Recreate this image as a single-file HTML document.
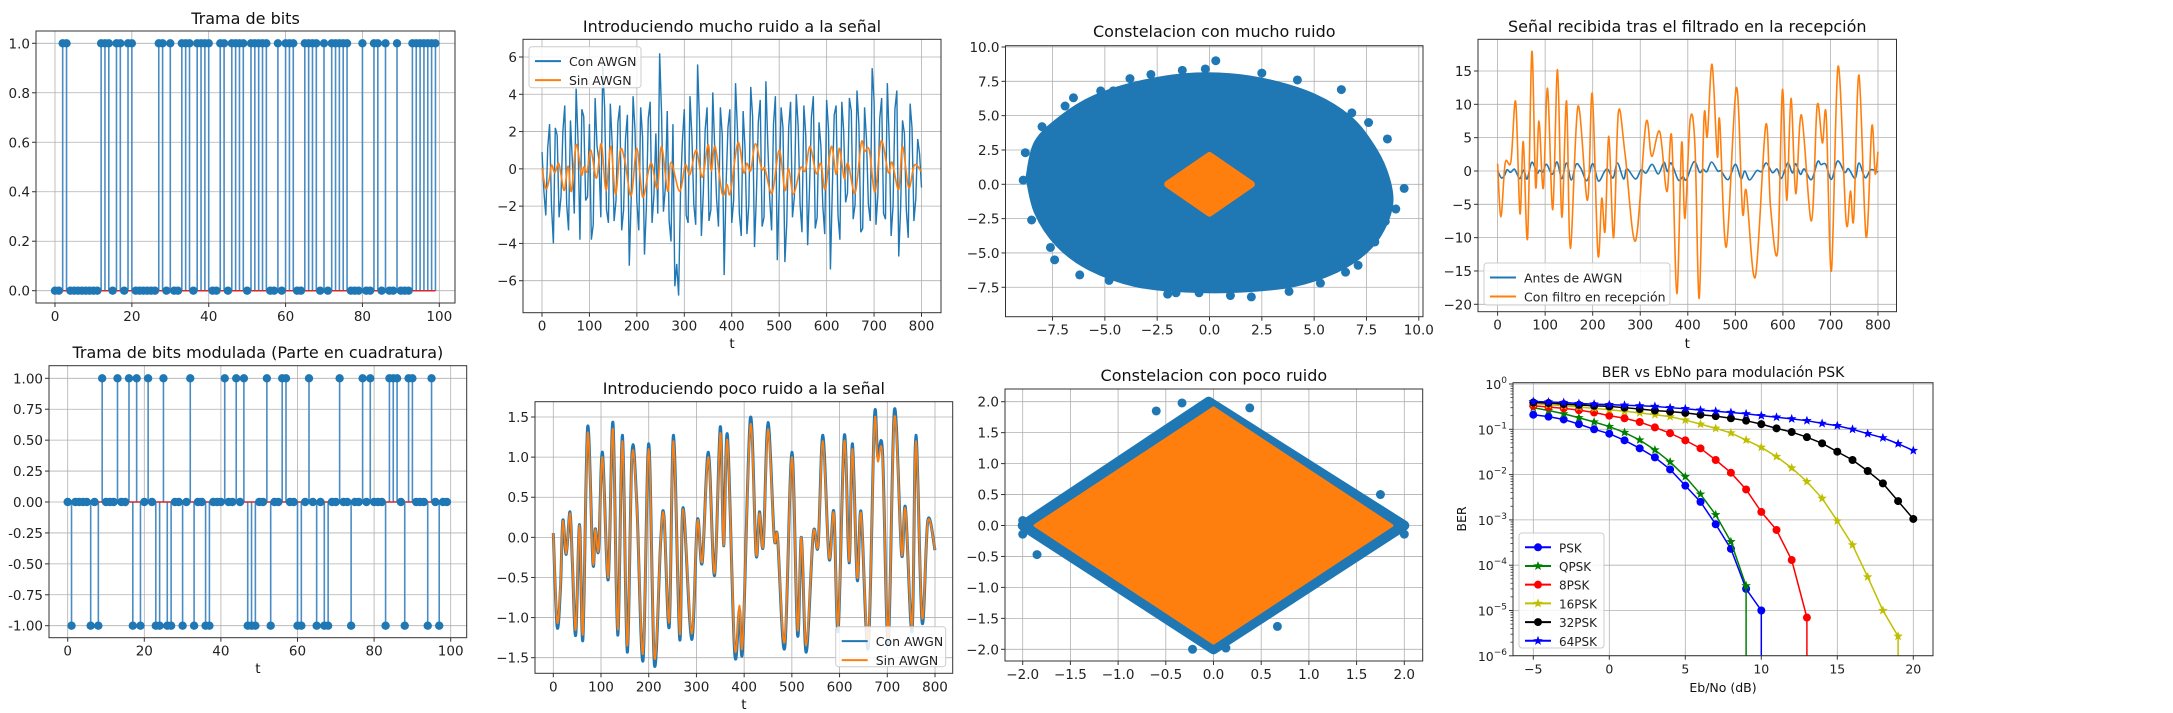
<!DOCTYPE html>
<html><head><meta charset="utf-8"><title>Figures</title>
<style>
html,body{margin:0;padding:0;background:#fff;}
svg{display:block;font-family:"DejaVu Sans","Liberation Sans",sans-serif;}
</style></head>
<body>
<svg id="fig" xmlns="http://www.w3.org/2000/svg" width="2173" height="713" viewBox="0 0 2173 713"></svg>
<script>
// ---------- DATA ----------
const bitOnesTop = [2,3,12,13,14,16,17,19,20,27,28,30,33,34,35,37,38,39,40,43,44,46,47,48,49,51,52,53,54,55,58,60,61,62,65,66,67,68,70,72,73,74,75,76,80,83,84,86,89,93,94,95,96,97,98,99];
const quadPlus = [9,13,16,18,21,25,32,41,44,46,52,56,57,63,71,77,79,84,85,86,89,90,95];
const quadMinus = [1,6,8,17,19,23,24,26,27,30,33,36,37,47,48,49,53,60,61,65,67,68,74,83,88,94,97];
const cleanT = [0,8,15,20,27,35,40,47,55,62,72,83,88,95,103,115,125,135,145,155,165,175,188,200,212,225,232,243,252,265,272,290,302,312,325,338,350,357,365,380,390,397,413,425,432,440,450,463,470,485,500,512,520,530,545,555,565,578,588,597,610,620,627,637,645,660,673,680,690,702,715,730,738,752,760,773,785,800];
const cleanV = [0.05,-1.05,-0.6,0.2,-0.2,0.3,-0.3,-1.15,0.15,-1.2,1.3,-0.3,0.1,-0.15,1.0,-0.5,1.35,-1.15,1.2,-1.35,1.0,0.4,-1.45,1.1,-1.5,-0.05,0.25,-1.05,1.2,-1.2,0.35,-1.2,0.2,-0.3,1.0,-0.45,1.3,-0.1,1.2,-1.35,-0.85,-1.3,1.4,-0.2,0.3,-0.1,1.35,0.0,0.0,-1.3,1.0,-1.15,0.0,-1.35,0.05,-0.1,1.2,-0.25,0.3,-1.1,1.2,-0.3,1.1,-0.5,0.3,-1.3,1.4,0.95,1.0,-1.25,1.5,-0.2,0.35,-1.1,1.2,-1.0,0.2,-0.15];
const noisyHigh = [0.9,-2.5,2.4,-4,1.8,-1.5,3.4,-3.3,0.4,4.3,-3.8,2.8,-1.5,-3.8,3.8,0.5,5.5,-2.2,3.5,-2.8,2.5,-3.3,1.6,-5.2,3.9,-1.8,3.3,-4.6,2.7,-2.9,1.9,6.2,-2.3,3.1,-3.9,-6.3,-6.8,1.5,-2.5,3.9,-1.9,5.6,-3.6,2.1,-2.8,4.1,-1.6,3.3,-5.7,2.2,-2.9,4.6,-2.4,3.1,-3.5,4.4,-4.2,2.5,-3.1,4.7,-1.6,2.4,-4.9,3.3,-5.0,2.2,-2.6,4.0,-1.9,3.4,-4.1,2.8,-3.2,2.5,-2.0,3.7,-5.4,2.9,-2.5,3.6,-1.8,3.8,-2.7,4.2,-3.4,3.3,-1.9,5.4,-3.0,2.7,-2.4,4.6,-3.6,3.2,-4.7,2.6,-2.2,3.5,-2.8,1.6,-1.0];
const noisyHighMid = [-1.2,1.1,-2.0,2.2,-2.6,2.0,-1.9,2.6,-2.4,1.5,3.2,-1.7,2.4,-3.0,1.2,-2.6,3.3,-2.9,1.3,-1.7,3.4,-2.2,2.9,-1.6,2.1,-3.3,1.7,-2.1,3.6,-1.4,-2.4,3.0,-1.0,-2.8,2.4,-5.1,-1.2,3.2,-2.9,1.7,-3.0,2.6,-1.3,3.3,-2.2,1.2,-3.1,1.8,-0.9,3.2,-1.7,2.1,-3.6,1.1,-1.9,2.8,-1.4,3.7,-2.6,1.3,-3.3,3.9,-1.2,2.2,-2.9,3.6,-1.5,2.3,-3.4,1.8,-1.0,3.9,-2.6,1.2,-3.5,2.1,-1.1,3.4,-3.8,2.0,-1.3,3.1,-1.9,2.4,-3.2,1.6,-2.8,3.7,-1.4,3.8,-2.7,1.5,-2.0,4.2,-2.1,1.9,-3.7,2.2,-1.6,0.8];
const filtT = [0,7,16,28,38,47,54,63,72,80,87,96,105,116,126,135,145,153,169,189,199,211,219,226,234,244,254,268,290,312,324,341,356,366,377,387,394,405,415,424,434,441,451,462,467,481,502,515,523,542,564,574,589,599,608,617,627,639,660,672,683,691,702,716,733,742,749,760,775,787,794,800];
const filtV = [1.1,-6.9,1.2,1.4,10.4,-6.4,4.4,-10.1,17.9,-2.4,7.5,-2.6,12.4,-5.8,15.2,-6.9,10.5,-11.6,9.7,-4.4,11.6,-12.5,-4.1,-9.0,5.2,-10,8.8,2.6,-10.5,7.2,2.2,5.9,-3.1,5.2,-18.4,4.2,-7.1,7.7,3.9,-19.1,7.9,5.2,16,2.2,7.6,-11.4,12.5,-6.1,-3,-15.9,6.9,-5.4,-12,12.2,-4.4,10.9,-3.4,8.4,-7.5,9.8,4.2,8.4,-15,15.7,-7.6,-3,-7.1,14.4,-9.9,6.7,-0.4,2.9];
const cloudHighX = [-8.6,-8.2,-7.0,-5.5,-3.5,-1.2,1.0,3.0,5.0,6.6,7.6,8.3,8.6,8.2,7.4,6.0,4.0,1.5,-1.0,-3.5,-5.7,-7.2,-8.2];
const cloudHighY = [0.5,3.0,4.8,6.2,7.2,7.8,7.8,7.3,6.3,4.8,3.0,1.0,-1.2,-3.2,-4.8,-6.2,-7.2,-7.6,-7.6,-7.2,-6.0,-4.3,-2.0];
const outHighX = [0.3,-1.3,2.5,-6.5,6.8,9.3,-7.4,7.1,-4.6,-2.0,5.3,-0.5,-3.8,-2.8,4.2,6.3,7.6,8.5,8.9,8.4,7.9,6.5,3.8,1.0,-1.6,-4.8,-6.2,-7.6,-8.5,-8.9,-8.8,-8.0,-6.9,-5.2,2.0,-0.2];
const outHighY = [9.0,8.3,8.1,6.3,5.2,-0.3,-5.5,-5.9,6.8,-8.0,-7.2,-7.9,7.7,8.0,7.6,6.9,4.5,3.3,-1.8,-2.7,-4.2,-6.4,-7.8,-8.1,-7.9,-7.0,-6.6,-4.6,-2.6,0.3,2.3,4.2,5.7,6.8,-8.2,8.4];
const diamondHighX = [-2.0,0,2.0,0];
const diamondHighY = [0,2.1,0,-2.1];
const cloudLowX = [-2.0,-0.05,2.0,0.0];
const cloudLowY = [0.0,2.0,0.0,-2.0];
const outLowX = [-0.6,-0.33,0.38,-0.22,0.13,0.67,-2.0,-2.0,2.0,-1.85,1.75];
const outLowY = [1.85,1.98,1.9,-2.0,-1.98,-1.63,0.08,-0.14,-0.14,-0.47,0.5];
const diamondLowX = [-1.87,0,1.87,0];
const diamondLowY = [0,1.9,0,-1.9];
const ebno = [-5,-4,-3,-2,-1,0,1,2,3,4,5,6,7,8,9,10,11,12,13,14,15,16,17,18,19,20];
const berPSK = [0.21,0.19,0.165,0.13,0.1,0.08,0.057,0.038,0.024,0.013,0.0057,0.0025,0.0008,0.00023,0.00003,0.00001,0];
const berQPSK = [0.3,0.26,0.22,0.18,0.145,0.115,0.085,0.058,0.035,0.019,0.009,0.0037,0.0013,0.00033,0.000035,0];
const ber8PSK = [0.33,0.31,0.29,0.265,0.235,0.2,0.175,0.145,0.11,0.082,0.057,0.038,0.021,0.011,0.0047,0.0015,0.0006,0.00013,0.000007,0];
const ber16PSK = [0.37,0.35,0.33,0.31,0.29,0.27,0.25,0.23,0.21,0.19,0.16,0.13,0.105,0.083,0.058,0.04,0.025,0.014,0.007,0.003,0.00095,0.00028,0.000055,0.00001,0.0000027,0];
const ber32PSK = [0.39,0.38,0.36,0.345,0.33,0.32,0.3,0.28,0.26,0.245,0.23,0.21,0.195,0.175,0.155,0.13,0.105,0.087,0.067,0.049,0.032,0.021,0.012,0.0064,0.0026,0.00105];
const ber64PSK = [0.41,0.4,0.39,0.37,0.36,0.35,0.34,0.33,0.32,0.3,0.285,0.265,0.25,0.235,0.22,0.2,0.185,0.17,0.155,0.135,0.12,0.1,0.08,0.065,0.048,0.034];

// ---------- HELPERS ----------
const NS = "http://www.w3.org/2000/svg";
const fig = document.getElementById('fig');
const BLUE = '#1f77b4', ORANGE = '#ff7f0e';
function mk(tag, attrs, parent){ const e=document.createElementNS(NS,tag); for(const k in attrs) e.setAttribute(k,attrs[k]); (parent||fig).appendChild(e); return e; }
function lin(v1,p1,v2,p2){ const k=(p2-p1)/(v2-v1); return v=>p1+(v-v1)*k; }
function fmtMinus(s){ return s.replace('-','\u2212'); }
let clipId=0;
function makeAxes(name, box, sx, sy, xt, yt, opts){
  opts=opts||{};
  const g=mk('g',{});
  
  
  mk('rect',{x:box[0],y:box[1],width:box[2]-box[0],height:box[3]-box[1],fill:'#fff'},g);
  const fs = opts.fs||13.5;
  const grid=mk('g',{stroke:'#b0b0b0','stroke-width':0.8},g);
  
  
  xt.forEach(v=>{ const x=sx(v); mk('line',{x1:x,x2:x,y1:box[1],y2:box[3]},grid);
    mk('line',{x1:x,x2:x,y1:box[3],y2:box[3]+4,stroke:'#333'},g);
    const t=mk('text',{x:x,y:box[3]+18,'text-anchor':'middle','font-size':fs,fill:'#222'},g);
    t.textContent = opts.xfmt?opts.xfmt(v):fmtMinus(String(v));
    
     });
  yt.forEach(v=>{ const y=sy(v); mk('line',{x1:box[0],x2:box[2],y1:y,y2:y},grid);
    mk('line',{x1:box[0]-4,x2:box[0],y1:y,y2:y,stroke:'#333'},g);
    const t=mk('text',{x:box[0]-6,y:y+5,'text-anchor':'end','font-size':fs,fill:'#222'},g);
    if(opts.yfmt) opts.yfmt(t,v); else t.textContent = fmtMinus(String(v));
    
     });
  const id='c'+(clipId++);
  const cp=mk('clipPath',{id:id},g); mk('rect',{x:box[0],y:box[1],width:box[2]-box[0],height:box[3]-box[1]},cp);
  const plot=mk('g',{'clip-path':'url(#'+id+')'},g);
  
  
  const frame=mk('rect',{x:box[0],y:box[1],width:box[2]-box[0],height:box[3]-box[1],fill:'none',stroke:'#333','stroke-width':1},g);
  
  
  if(opts.title){ const t=mk('text',{x:(box[0]+box[2])/2,y:opts.titleY,'text-anchor':'middle','font-size':opts.tfs||16,fill:'#111'},g); t.textContent=opts.title;
    
     }
  if(opts.xlabel){ const t=mk('text',{x:(box[0]+box[2])/2,y:opts.xlabelY,'text-anchor':'middle','font-size':fs,fill:'#111'},g); t.textContent=opts.xlabel;
    
     }
  return {g,plot};
}
function range(a,b,s){ const r=[]; for(let v=a; v<=b+1e-9; v+=s) r.push(Math.round(v*1000)/1000); return r; }
function smoothPath(pts){
  let d='M'+pts[0][0]+','+pts[0][1];
  for(let i=0;i<pts.length-1;i++){
    const p0=pts[Math.max(0,i-1)],p1=pts[i],p2=pts[i+1],p3=pts[Math.min(pts.length-1,i+2)];
    const c1=[p1[0]+(p2[0]-p0[0])/6,p1[1]+(p2[1]-p0[1])/6], c2=[p2[0]-(p3[0]-p1[0])/6,p2[1]-(p3[1]-p1[1])/6];
    d+=' C'+c1[0].toFixed(2)+','+c1[1].toFixed(2)+' '+c2[0].toFixed(2)+','+c2[1].toFixed(2)+' '+p2[0].toFixed(2)+','+p2[1].toFixed(2);
  }
  return d;
}
function linePath(pts){ return 'M'+pts.map(p=>p[0].toFixed(2)+','+p[1].toFixed(2)).join(' L'); }
function legend(g, x, y, w, h, items, fs, rowH, name){
  const lg=mk('g',{},g);
  
  
  mk('rect',{x:x,y:y,width:w,height:h,rx:3,fill:'#fff','fill-opacity':0.85,stroke:'#ccc'},lg);
  items.forEach((it,i)=>{
    const cy=y+rowH*0.55+i*rowH+4;
    const e=mk('g',{},lg);
    
    
    mk('line',{x1:x+6,x2:x+32,y1:cy,y2:cy,stroke:it.c,'stroke-width':2},e);
    if(it.m==='o') mk('circle',{cx:x+19,cy:cy,r:4,fill:it.c},e);
    if(it.m==='*') star(e,x+19,cy,5,it.c);
    const t=mk('text',{x:x+40,y:cy+5,'font-size':fs,fill:'#222'},e); t.textContent=it.t;
  });
}
function star(parent,cx,cy,r,c){
  let d='';
  for(let i=0;i<10;i++){ const a=-Math.PI/2+i*Math.PI/5, rr=i%2?r*0.42:r; d+=(i?'L':'M')+(cx+rr*Math.cos(a)).toFixed(2)+','+(cy+rr*Math.sin(a)).toFixed(2); }
  return mk('path',{d:d+'Z',fill:c},parent);
}

// ---------- PANEL 1: Trama de bits ----------
(function(){
  const box=[36,31,455,303], sx=lin(0,55,100,439.3), sy=lin(0,290.7,1,43.3);
  const A=makeAxes('bits-stem-chart',box,sx,sy,range(0,100,20),[0,0.2,0.4,0.6,0.8,1.0].map(v=>v),{title:'Trama de bits',titleY:24,
    yfmt:(t,v)=>t.textContent=v.toFixed(1)});
  const vals=[]; for(let i=0;i<100;i++) vals.push(bitOnesTop.includes(i)?1:0);
  vals.forEach((v,i)=>{ if(v!==0){ const s=mk('line',{x1:sx(i),x2:sx(i),y1:sy(0),y2:sy(v),stroke:'#4a8cc4','stroke-width':1.6},A.plot);
      }});
  const bl=mk('line',{x1:sx(0),x2:sx(99),y1:sy(0),y2:sy(0),stroke:'#d62728','stroke-width':1.5},A.plot);
   
  vals.forEach((v,i)=>{ const c=mk('circle',{cx:sx(i),cy:sy(v),r:4.2,fill:BLUE},A.plot);
      });
})();

// ---------- PANEL 2: mucho ruido ----------
(function(){
  const box=[523,39.3,941,312.7], sx=lin(0,542,800,921.5), sy=lin(6,57,-6,280.7);
  const A=makeAxes('high-noise-signal-chart',box,sx,sy,range(0,800,100),[-6,-4,-2,0,2,4,6],{title:'Introduciendo mucho ruido a la señal',titleY:32,xlabel:'t',xlabelY:348});
  const n=noisyHigh.length;
  const pts=[];
  noisyHigh.forEach((v,i)=>{ pts.push([sx(i*800/(n-1)),sy(v)]); if(i<noisyHighMid.length && i<n-1) pts.push([sx((i+0.5)*800/(n-1)),sy(noisyHighMid[i])]); });
  const p1=mk('path',{d:linePath(pts),fill:'none',stroke:BLUE,'stroke-width':1.4},A.plot);
   
  const p2=mk('path',{d:smoothPath(cleanT.map((t,i)=>[sx(t),sy(cleanV[i])])),fill:'none',stroke:ORANGE,'stroke-width':1.6},A.plot);
   
  legend(A.g,529,46.7,112,41,[{t:'Con AWGN',c:BLUE},{t:'Sin AWGN',c:ORANGE}],12.5,19,'legend');
})();

// ---------- PANEL 3: constelacion mucho ruido ----------
(function(){
  const box=[1005.5,45.7,1423,316.7], sx=lin(0,1209.5,10,1418.8), sy=lin(0,184.3,10,47);
  const A=makeAxes('high-noise-constellation-chart',box,sx,sy,[-7.5,-5,-2.5,0,2.5,5,7.5,10],[-7.5,-5,-2.5,0,2.5,5,7.5,10],{title:'Constelacion con mucho ruido',titleY:37,
    xfmt:v=>fmtMinus(v.toFixed(1)), yfmt:(t,v)=>t.textContent=fmtMinus(v.toFixed(1))});
  const cl=mk('path',{d:smoothPath(cloudHighX.concat([cloudHighX[0]]).map((x,i)=>[sx(x),sy(cloudHighY.concat([cloudHighY[0]])[i])]))+'Z',fill:BLUE,stroke:BLUE,'stroke-width':8,'stroke-linejoin':'round'},A.plot);
   
  outHighX.forEach((x,i)=>{ const c=mk('circle',{cx:sx(x),cy:sy(outHighY[i]),r:4.5,fill:BLUE},A.plot);
      });
  const dm=mk('path',{d:linePath(diamondHighX.map((x,i)=>[sx(x),sy(diamondHighY[i])]))+'Z',fill:ORANGE,stroke:ORANGE,'stroke-width':7,'stroke-linejoin':'round'},A.plot);
   
})();

// ---------- PANEL 4: filtrado ----------
(function(){
  const box=[1478,39.3,1896.5,311.7], sx=lin(0,1497.6,800,1878), sy=lin(15,71,-20,304.3);
  const A=makeAxes('filtered-signal-chart',box,sx,sy,range(0,800,100),[-20,-15,-10,-5,0,5,10,15],{title:'Señal recibida tras el filtrado en la recepción',titleY:32,xlabel:'t',xlabelY:348});
  const p1=mk('path',{d:smoothPath(cleanT.map((t,i)=>[sx(t),sy(cleanV[i])])),fill:'none',stroke:BLUE,'stroke-width':1.6},A.plot);
   
  const p2=mk('path',{d:smoothPath(filtT.map((t,i)=>[sx(t),sy(filtV[i])])),fill:'none',stroke:ORANGE,'stroke-width':1.6},A.plot);
   
  legend(A.g,1484,263,186,42,[{t:'Antes de AWGN',c:BLUE},{t:'Con filtro en recepción',c:ORANGE}],12.5,19,'legend');
})();

// ---------- PANEL 5: cuadratura ----------
(function(){
  const box=[49,365.7,466.7,637.7], sx=lin(0,67.7,100,450.7), sy=lin(1,378.3,-1,625.7);
  const A=makeAxes('quadrature-bits-stem-chart',box,sx,sy,range(0,100,20),[-1,-0.75,-0.5,-0.25,0,0.25,0.5,0.75,1],{title:'Trama de bits modulada (Parte en cuadratura)',titleY:358,xlabel:'t',xlabelY:673,
    yfmt:(t,v)=>t.textContent=v.toFixed(2)});
  const vals=[]; for(let i=0;i<100;i++) vals.push(quadPlus.includes(i)?1:(quadMinus.includes(i)?-1:0));
  vals.forEach((v,i)=>{ if(v!==0){ const s=mk('line',{x1:sx(i),x2:sx(i),y1:sy(0),y2:sy(v),stroke:'#4a8cc4','stroke-width':1.6},A.plot);
      }});
  const bl=mk('line',{x1:sx(0),x2:sx(99),y1:sy(0),y2:sy(0),stroke:'#d62728','stroke-width':1.5},A.plot);
   
  vals.forEach((v,i)=>{ const c=mk('circle',{cx:sx(i),cy:sy(v),r:4.2,fill:BLUE},A.plot);
      });
})();

// ---------- PANEL 6: poco ruido ----------
(function(){
  const box=[535,401.7,952.7,673.3], sx=lin(0,553.3,800,935), sy=lin(1.5,417,-1.5,657.7);
  const A=makeAxes('low-noise-signal-chart',box,sx,sy,range(0,800,100),[-1.5,-1,-0.5,0,0.5,1,1.5],{title:'Introduciendo poco ruido a la señal',titleY:394,xlabel:'t',xlabelY:709,
    yfmt:(t,v)=>t.textContent=fmtMinus(v.toFixed(1))});
  const p1=mk('path',{d:smoothPath(cleanT.map((t,i)=>[sx(t),sy(cleanV[i]*1.06)])),fill:'none',stroke:BLUE,'stroke-width':3},A.plot);
   
  const p2=mk('path',{d:smoothPath(cleanT.map((t,i)=>[sx(t),sy(cleanV[i])])),fill:'none',stroke:ORANGE,'stroke-width':1.8},A.plot);
   
  legend(A.g,835.7,626.7,110,40,[{t:'Con AWGN',c:BLUE},{t:'Sin AWGN',c:ORANGE}],12.5,19,'legend');
})();

// ---------- PANEL 7: constelacion poco ruido ----------
(function(){
  const box=[1005,389,1422.7,661], sx=lin(0,1213.5,2,1404.3), sy=lin(0,525.5,2,401.7);
  const ticks=[-2,-1.5,-1,-0.5,0,0.5,1,1.5,2];
  const A=makeAxes('low-noise-constellation-chart',box,sx,sy,ticks,ticks,{title:'Constelacion con poco ruido',titleY:381,
    xfmt:v=>fmtMinus(v.toFixed(1)), yfmt:(t,v)=>t.textContent=fmtMinus(v.toFixed(1))});
  const cl=mk('path',{d:linePath(cloudLowX.map((x,i)=>[sx(x),sy(cloudLowY[i])]))+'Z',fill:BLUE,stroke:BLUE,'stroke-width':10,'stroke-linejoin':'round'},A.plot);
   
  outLowX.forEach((x,i)=>{ const c=mk('circle',{cx:sx(x),cy:sy(outLowY[i]),r:4.5,fill:BLUE},A.plot);
      });
  const dm=mk('path',{d:linePath(diamondLowX.map((x,i)=>[sx(x),sy(diamondLowY[i])]))+'Z',fill:ORANGE,stroke:ORANGE,'stroke-width':3,'stroke-linejoin':'round'},A.plot);
   
})();

// ---------- PANEL 8: BER ----------
(function(){
  const box=[1513,382.7,1933,655.7], sx=lin(-5,1533.3,20,1913.3);
  const sy=v=>384+(-Math.log10(v))*45.3;
  const sup={'0':'0','-1':'\u22121','-2':'\u22122','-3':'\u22123','-4':'\u22124','-5':'\u22125','-6':'\u22126'};
  const A=makeAxes('ber-chart',box,sx,sy,[-5,0,5,10,15,20],[1,1e-1,1e-2,1e-3,1e-4,1e-5,1e-6],{title:'BER vs EbNo para modulación PSK',titleY:377,tfs:14,fs:12.5,xlabel:'Eb/No (dB)',xlabelY:692,
    yfmt:(t,v)=>{ const e=Math.round(Math.log10(v)); t.textContent='10'; const ts=mk('tspan',{dy:-6,'font-size':9},t); ts.textContent=sup[String(e)]; }});
  for(let d=0; d>-6; d--) for(let m=2;m<10;m++){ const y=sy(m*Math.pow(10,d-1)); mk('line',{x1:box[0]-2.5,x2:box[0],y1:y,y2:y,stroke:'#333','stroke-width':0.8},A.g); }
  const yl=mk('text',{x:1466,y:519,'text-anchor':'middle','font-size':12.5,fill:'#111',transform:'rotate(-90 1466 519)'},A.g); yl.textContent='BER';
   
  const series=[[berPSK,'#0000ff','o','PSK'],[berQPSK,'#008000','*','QPSK'],[ber8PSK,'#ff0000','o','8PSK'],[ber16PSK,'#bfbf00','*','16PSK'],[ber32PSK,'#000000','o','32PSK'],[ber64PSK,'#0000ff','*','64PSK']];
  series.forEach(s=>{
    const sg=mk('g',{},A.plot);
    
    
    const pts=[]; s[0].forEach((v,i)=>{ pts.push([sx(ebno[i]), v>0?sy(v):box[3]+5]); });
    const lastZero = s[0][s[0].length-1]===0;
    const drawPts = pts.slice(); if(lastZero){ drawPts[drawPts.length-1]=[pts[pts.length-2][0],box[3]+5]; }
    mk('path',{d:linePath(drawPts),fill:'none',stroke:s[1],'stroke-width':1.5},sg);
    s[0].forEach((v,i)=>{ if(v>0){ if(s[2]==='o') mk('circle',{cx:sx(ebno[i]),cy:sy(v),r:4,fill:s[1]},sg); else star(sg,sx(ebno[i]),sy(v),5,s[1]); }});
  });
  legend(A.g,1519,533,85,115,series.map(s=>({t:s[3],c:s[1],m:s[2]})),12,18.7,'legend');
})();
</script>
</body></html>
